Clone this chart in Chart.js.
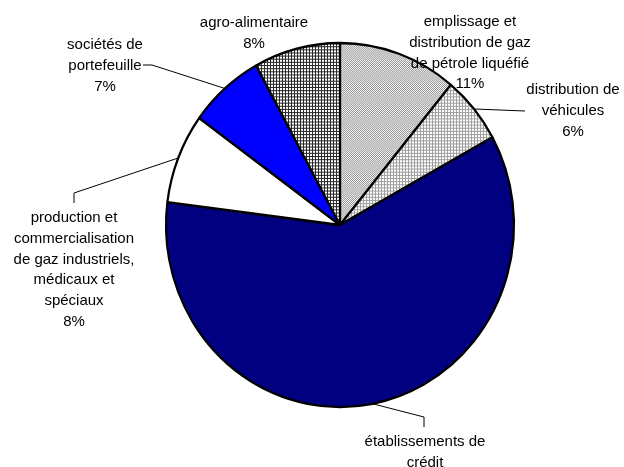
<!DOCTYPE html>
<html>
<head>
<meta charset="utf-8">
<script src="https://cdn.jsdelivr.net/npm/chart.js@4/dist/chart.umd.min.js"></script>
<style>
  html, body { margin: 0; padding: 0; background: #fff; }
  canvas { display: block; }
</style>
</head>
<body>
<canvas id="pie" width="624" height="467"></canvas>
<script>
// Sectors, clockwise from 12 o'clock
const categories = [
  ['emplissage et', 'distribution de gaz', 'de pétrole liquéfié'],
  ['distribution de', 'véhicules'],
  ['établissements de', 'crédit'],
  ['production et', 'commercialisation', 'de gaz industriels,', 'médicaux et', 'spéciaux'],
  ['sociétés de', 'portefeuille'],
  ['agro-alimentaire']
];
const shares = [11, 6, 60, 8, 7, 8]; // %

// Label placement: centre x, baseline of first line, whether the % line fits,
// and the leader-line path from the sector edge to the text.
const labelLayout = [
  { x: 470, y: 26,  pct: true,  leader: null },
  { x: 573, y: 94,  pct: true,  leader: [[525, 111]] },
  { x: 425, y: 446, pct: false, leader: [[424, 417], [424, 427]] },
  { x: 74,  y: 222, pct: true,  leader: [[74, 193], [74, 203]] },
  { x: 105, y: 49,  pct: true,  leader: [[152, 65], [143, 65]] },
  { x: 254, y: 27,  pct: true,  leader: null }
];
const LINE_H = 20.8;
const STRETCH_Y = 1.046; // the pie is drawn slightly taller than wide

// Hatched fills
function makePattern(size, draw) {
  const c = document.createElement('canvas');
  c.width = size; c.height = size;
  const g = c.getContext('2d');
  draw(g);
  return g.createPattern(c, 'repeat');
}
const fineDots = makePattern(2, g => {
  g.fillStyle = '#ffffff'; g.fillRect(0, 0, 2, 2);
  g.fillStyle = '#8c8c8c'; g.fillRect(0, 0, 1, 1); g.fillRect(1, 1, 1, 1);
});
const lightGrid = makePattern(3, g => {
  g.fillStyle = '#ffffff'; g.fillRect(0, 0, 3, 3);
  g.fillStyle = '#a0a0a0'; g.fillRect(0, 0, 3, 1); g.fillRect(0, 0, 1, 3);
});
const darkGrid = makePattern(3, g => {
  g.fillStyle = '#ffffff'; g.fillRect(0, 0, 3, 3);
  g.fillStyle = '#2a2a2a'; g.fillRect(0, 0, 3, 1); g.fillRect(0, 0, 1, 3);
});
const fills = [fineDots, lightGrid, '#000080', '#ffffff', '#0000ff', darkGrid];

function pieCentre(chart) {
  const a = chart.getDatasetMeta(0).data[0];
  return { x: a.x, y: a.y };
}

const stretchPlugin = {
  id: 'pieStretch',
  beforeDatasetsDraw(chart) {
    const c = pieCentre(chart);
    const ctx = chart.ctx;
    ctx.save();
    ctx.translate(c.x, c.y);
    ctx.scale(1, STRETCH_Y);
    ctx.translate(-c.x, -c.y);
  },
  afterDatasetsDraw(chart) {
    chart.ctx.restore();
  }
};

const labelPlugin = {
  id: 'sectorLabels',
  afterDraw(chart) {
    const ctx = chart.ctx;
    const arcs = chart.getDatasetMeta(0).data;
    ctx.save();
    // leader lines
    ctx.strokeStyle = '#000';
    ctx.lineWidth = 1;
    arcs.forEach((arc, i) => {
      const lay = labelLayout[i];
      if (!lay.leader) return;
      const p = arc.getProps(['x', 'y', 'startAngle', 'endAngle', 'outerRadius'], true);
      const mid = (p.startAngle + p.endAngle) / 2;
      ctx.beginPath();
      ctx.moveTo(p.x + Math.cos(mid) * p.outerRadius,
                 p.y + Math.sin(mid) * p.outerRadius * STRETCH_Y);
      lay.leader.forEach(pt => ctx.lineTo(pt[0], pt[1]));
      ctx.stroke();
    });
    // texts
    ctx.fillStyle = '#000';
    ctx.font = '15px "Liberation Sans", Arial, sans-serif';
    ctx.textAlign = 'center';
    ctx.textBaseline = 'alphabetic';
    categories.forEach((lines, i) => {
      const lay = labelLayout[i];
      const all = lay.pct ? lines.concat([shares[i] + '%']) : lines;
      all.forEach((t, k) => ctx.fillText(t, lay.x, lay.y + k * LINE_H));
    });
    ctx.restore();
  }
};

new Chart(document.getElementById('pie'), {
  type: 'pie',
  data: {
    labels: categories.map(c => c.join(' ')),
    datasets: [{
      data: shares,
      backgroundColor: fills,
      borderColor: '#000',
      borderWidth: 2.2
    }]
  },
  options: {
    responsive: false,
    animation: false,
    devicePixelRatio: 1,
    radius: 174,
    layout: { padding: { left: 166, right: 110, top: 51, bottom: 68 } },
    plugins: {
      legend: { display: false },
      tooltip: { enabled: false },
      title: { display: false }
    }
  },
  plugins: [stretchPlugin, labelPlugin]
});
</script>
</body>
</html>
